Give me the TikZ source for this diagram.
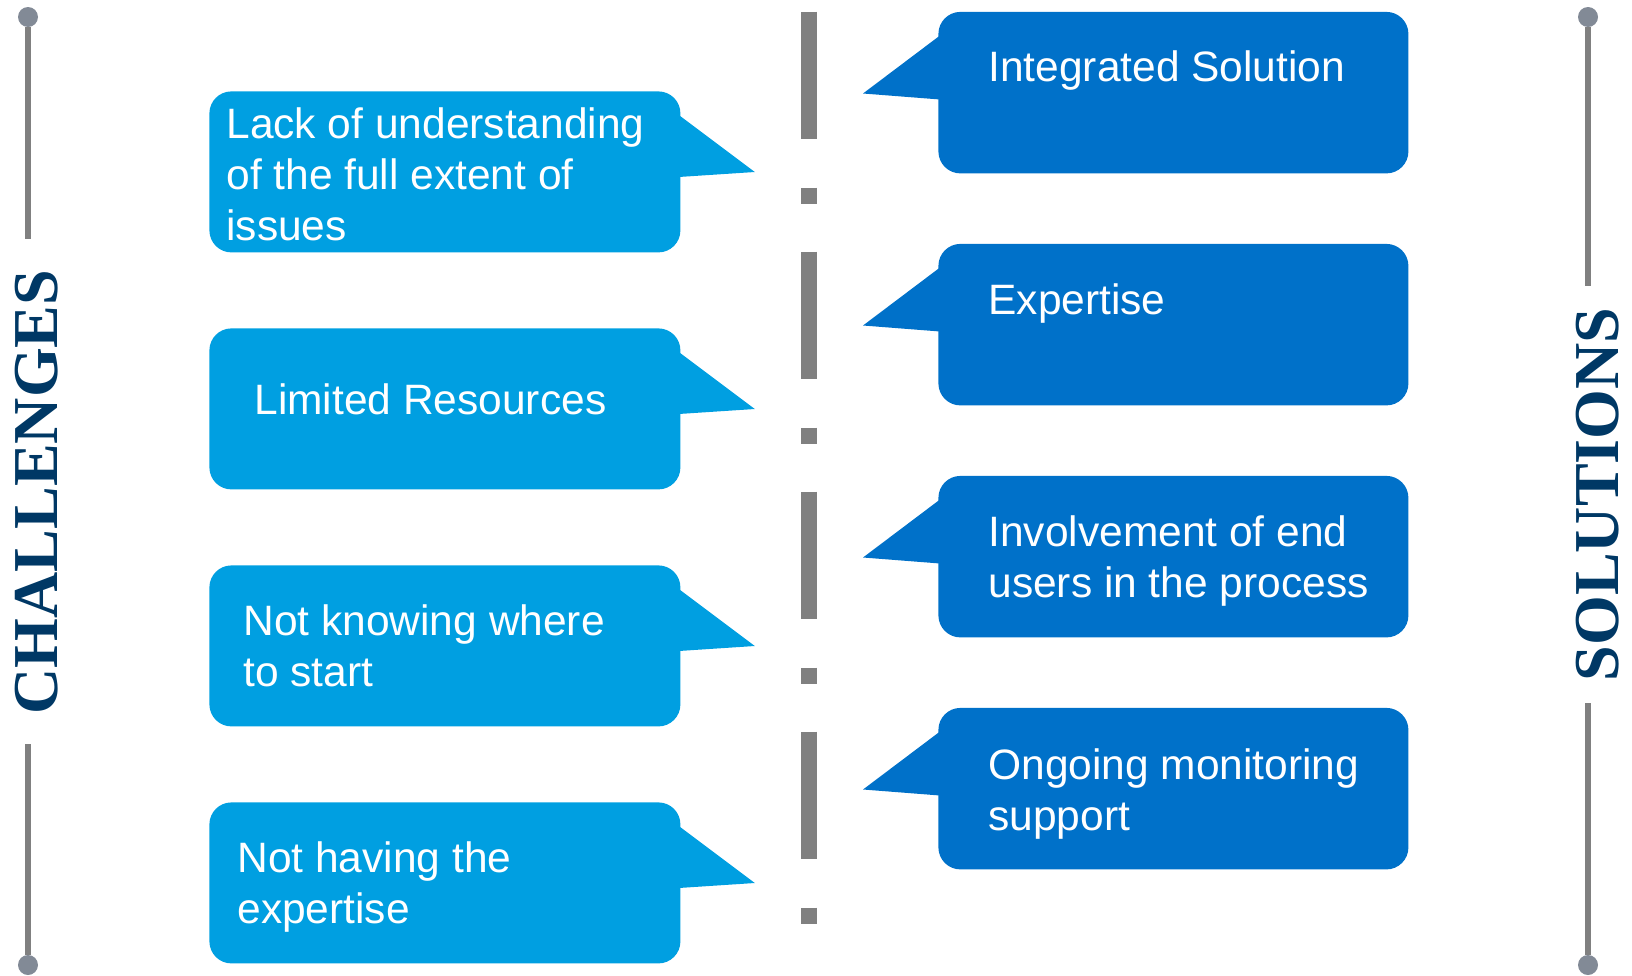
\documentclass[tikz,border=0pt]{standalone}
\usepackage{fontspec}
\setmainfont{Liberation Sans}
\newfontfamily\titlefont{Liberation Serif}
\usepackage{xcolor}
\usetikzlibrary{calc}

\definecolor{challblue}{RGB}{0,159,225}
\definecolor{solblue}{RGB}{0,113,201}
\definecolor{titlenavy}{RGB}{0,56,101}
\definecolor{railgray}{RGB}{128,128,128}
\definecolor{dotgray}{RGB}{130,138,150}

\begin{document}
\begin{tikzpicture}[x=0.5pt, y=-0.5pt,
    chbox/.style={fill=challblue, rounded corners=11pt, minimum width=235.5pt, minimum height=80.5pt, inner sep=0pt, anchor=north west},
    solbox/.style={fill=solblue, rounded corners=11pt, minimum width=235pt, minimum height=80.75pt, inner sep=0pt, anchor=north west},
    boxtext/.style={text=white, font=\fontsize{21.25}{25.5}\selectfont, align=left, inner sep=0pt, anchor=west},
    titletext/.style={text=titlenavy, font=\titlefont\bfseries\fontsize{32}{32}\selectfont, rotate=90, inner sep=0pt, anchor=base},
    raildot/.style={circle, fill=dotgray, minimum size=10pt, inner sep=0pt},
    rail/.style={draw=railgray, line width=3pt}]
    \useasboundingbox (0,0) rectangle (1632,975);

    % Side rails with end dots
    \node[raildot] (ltop) at (28,17) {};
    \node[raildot] (lbot) at (28,965) {};
    \coordinate (lgapt) at (28,239);
    \coordinate (lgapb) at (28,744);
    \draw[rail] (ltop) -- (lgapt);
    \draw[rail] (lgapb) -- (lbot);
    \node[raildot] (rtop) at (1588,17) {};
    \node[raildot] (rbot) at (1588,965) {};
    \coordinate (rgapt) at (1588,286);
    \coordinate (rgapb) at (1588,703);
    \draw[rail] (rtop) -- (rgapt);
    \draw[rail] (rgapb) -- (rbot);

    % Side titles
    \node[titletext] (chall) at (57,492) {CHALLENGES};
    \node[titletext] (solu) at (1618,494.5) {SOLUTIONS};

    % Dash-dot divider
    \coordinate (dashtop) at (809,11.5);
    \coordinate (dashbot) at (809,923.5);
    \draw[railgray, line width=8pt, dash pattern=on 63.5pt off 24.5pt on 8pt off 24pt] (dashtop) -- (dashbot);

    % Challenge callouts
    \node[chbox] (ch1) at (209,91) {};
    \node[chbox] (ch2) at (209,328) {};
    \node[chbox] (ch3) at (209,565) {};
    \node[chbox] (ch4) at (209,802) {};
    \foreach \b in {ch1,ch2,ch3,ch4}
        \fill[challblue] ($(\b.north east)+(-2,24)$) -- ($(\b.north east)+(74,81)$) -- ($(\b.north east)+(-2,86)$) -- cycle;

    \node[boxtext] (t1) at (226,174) {Lack of understanding\\of the full extent of\\issues};
    \node[boxtext] (t2) at (254,399) {Limited Resources};
    \node[boxtext] (t3) at (243,645.5) {Not knowing where\\to start};
    \node[boxtext] (t4) at (237,886.5) {Not having the\\expertise};

    % Solution callouts
    \node[solbox] (sol1) at (938,11.5) {};
    \node[solbox] (sol2) at (938,243.5) {};
    \node[solbox] (sol3) at (938,475.5) {};
    \node[solbox] (sol4) at (938,707.5) {};
    \foreach \b in {sol1,sol2,sol3,sol4}
        \fill[solblue] ($(\b.north west)+(2,24)$) -- ($(\b.north west)+(-75,82)$) -- ($(\b.north west)+(2,88)$) -- cycle;

    \node[boxtext] (s1) at (988,70.6) {Integrated Solution};
    \node[boxtext] (s2) at (988,304) {Expertise};
    \node[boxtext] (s3) at (988,561.5) {Involvement of end\\users in the process};
    \node[boxtext] (s4) at (988,793.5) {Ongoing monitoring\\support};
\end{tikzpicture}
\end{document}
